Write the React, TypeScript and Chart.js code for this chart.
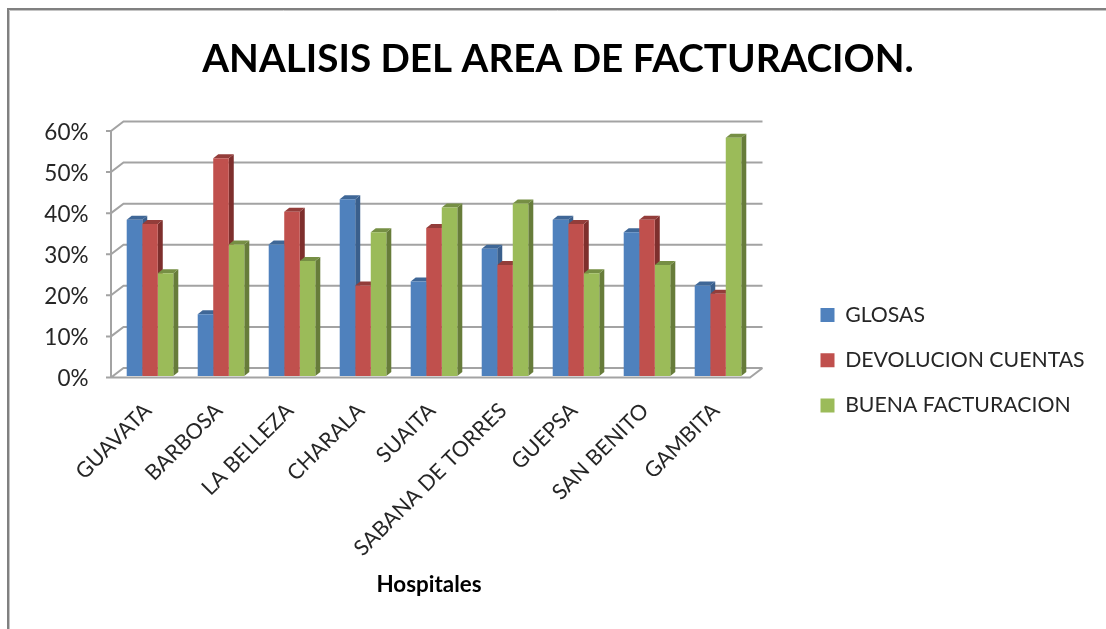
import React, { useEffect, useRef } from "react";
import { Chart, registerables } from "chart.js";

Chart.register(...registerables);

const categories = ["GUAVATA", "BARBOSA", "LA BELLEZA", "CHARALA", "SUAITA", "SABANA DE TORRES", "GUEPSA", "SAN BENITO", "GAMBITA"];
const glosas = [38, 15, 32, 43, 23, 31, 38, 35, 22];
const devolucion = [37, 53, 40, 22, 36, 27, 37, 38, 20];
const buena = [25, 32, 28, 35, 41, 42, 25, 27, 58];
const FONT = "Lato, Carlito, 'Open Sans', sans-serif";
const GRID = "#a3a3a3";
const BOTTOM_PAD = 30.8;
const palette = [
  { front: "#4f81bd", side: "#3a5f8c", top: "#3f6797" },
  { front: "#c0504d", side: "#7e2f2d", top: "#933d3a" },
  { front: "#9bbb59", side: "#677c3a", top: "#768f44" },
];

const threeD = {
  id: "threeD",
  beforeDraw(chart: any) {
    const { ctx } = chart;
    const legend = chart.legend;
    legend.left = 796.5;
    legend.right = 796.5 + legend.width;
    legend.top = 237;
    legend.bottom = 237 + legend.height;
    chart.titleBlock.left = 0;
    chart.titleBlock.right = 1116;
    chart.scales.x.left = chart.chartArea.left - 10;
    ctx.save();
    ctx.fillStyle = "#ffffff";
    ctx.fillRect(0, 0, chart.width, chart.height);
    ctx.lineWidth = 1;
    ctx.strokeStyle = "#c4c4c4";
    ctx.beginPath();
    ctx.moveTo(9.5, 629);
    ctx.lineTo(9.5, 10.5);
    ctx.lineTo(1106, 10.5);
    ctx.stroke();
    ctx.strokeStyle = "#808080";
    ctx.lineWidth = 2;
    ctx.beginPath();
    ctx.moveTo(8, 629);
    ctx.lineTo(8, 9);
    ctx.lineTo(1106, 9);
    ctx.stroke();
    const y = chart.scales.y;
    const area = chart.chartArea;
    const fx0 = area.left - 3.5;
    const fx1 = area.right - 3.5;
    const dx = 12.5;
    const dy = 9.5;
    ctx.strokeStyle = GRID;
    ctx.lineWidth = 2;
    ctx.beginPath();
    for (const t of y.ticks) {
      const py = y.getPixelForValue(t.value) + 1.5;
      ctx.moveTo(fx0 - 5, py);
      ctx.lineTo(fx0, py);
      ctx.lineTo(fx0 + dx, py - dy);
      ctx.lineTo(fx1 + dx, py - dy);
    }
    const b = y.getPixelForValue(0) + 1.5;
    const tp = y.getPixelForValue(y.max) + 1.5;
    ctx.moveTo(fx0, tp);
    ctx.lineTo(fx0, b);
    ctx.lineTo(fx1, b);
    ctx.lineTo(fx1 + dx, b - dy);
    ctx.stroke();
    ctx.restore();
  },
  beforeDatasetsDraw(chart: any) {
    const { ctx } = chart;
    const ox = 5;
    const oy = 4;
    chart.data.datasets.forEach((_: any, d: number) => {
      const colors = palette[d];
      chart.getDatasetMeta(d).data.forEach((bar: any) => {
        const l = bar.x - bar.width / 2;
        const r = bar.x + bar.width / 2;
        const t = bar.y;
        const base = bar.base;
        ctx.fillStyle = colors.side;
        ctx.beginPath();
        ctx.moveTo(r, t);
        ctx.lineTo(r + ox, t - oy);
        ctx.lineTo(r + ox, base - oy);
        ctx.lineTo(r, base);
        ctx.closePath();
        ctx.fill();
        ctx.fillStyle = colors.top;
        ctx.beginPath();
        ctx.moveTo(l, t);
        ctx.lineTo(l + ox, t - oy);
        ctx.lineTo(r + ox, t - oy);
        ctx.lineTo(r, t);
        ctx.closePath();
        ctx.fill();
      });
    });
  },
};

export default function App() {
  const ref = useRef<HTMLCanvasElement>(null);
  useEffect(() => {
    document.body.style.margin = "0";
    const chart = new Chart(ref.current as HTMLCanvasElement, {
      type: "bar",
      data: {
        labels: categories,
        datasets: [
          { label: "GLOSAS", data: glosas, backgroundColor: palette[0].front },
          { label: "DEVOLUCION CUENTAS", data: devolucion, backgroundColor: palette[1].front },
          { label: "BUENA FACTURACION", data: buena, backgroundColor: palette[2].front },
        ],
      },
      options: {
        animation: false,
        responsive: false,
        layout: { padding: { top: 0, left: 0, right: 352.5, bottom: BOTTOM_PAD } },
        datasets: { bar: { categoryPercentage: 0.656, barPercentage: 1 } },
        scales: {
          x: {
            grid: { display: false, drawTicks: false },
            border: { display: false },
            ticks: {
              color: "#262626",
              font: { family: FONT, size: 21.5 },
              maxRotation: 45,
              minRotation: 45,
              autoSkip: false,
              padding: 22,
              labelOffset: -2,
            },
            title: {
              display: true,
              text: "Hospitales",
              color: "#000000",
              font: { family: FONT, size: 22.4, weight: "bold" },
              padding: 0,
            },
            afterFit(scale: any) {
              scale.height = 629 - BOTTOM_PAD - 376;
            },
          },
          y: {
            min: 0,
            max: 60,
            grid: { display: false, drawTicks: false },
            border: { display: false },
            ticks: {
              stepSize: 10,
              color: "#262626",
              font: { family: FONT, size: 22.5 },
              padding: 26,
              labelOffset: 3.2,
              callback: (v: any) => v + "%",
            },
            afterFit(scale: any) {
              scale.width = 114.5;
            },
          },
        },
        plugins: {
          title: {
            display: true,
            text: "ANALISIS DEL AREA DE FACTURACION.",
            color: "#000000",
            font: { family: FONT, size: 38.65, weight: "bold" },
            padding: { top: 36, bottom: 47.1 },
          },
          legend: {
            position: "chartArea",
            labels: {
              boxWidth: 14,
              boxHeight: 14,
              padding: 24,
              color: "#262626",
              font: { family: FONT, size: 21.25 },
            },
          },
          tooltip: { enabled: false },
        },
      } as any,
      plugins: [threeD],
    });
    return () => chart.destroy();
  }, []);
  return <canvas ref={ref} width={1106} height={629} style={{ display: "block" }} />;
}
